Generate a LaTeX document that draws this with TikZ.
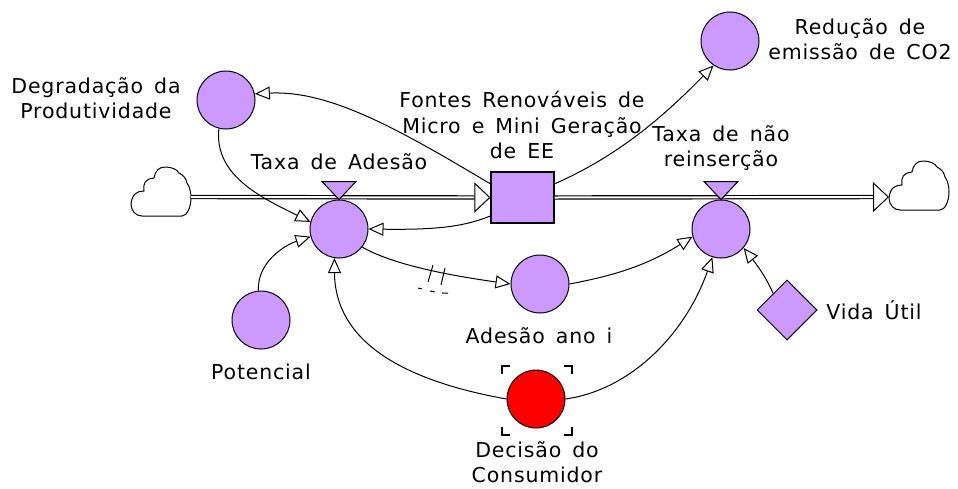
\documentclass[tikz,border=0pt]{standalone}
\usepackage{fontspec}
\setmainfont[WordSpace=1.5, LetterSpace=4]{DejaVu Sans}
\usepackage{xcolor}
\usetikzlibrary{arrows.meta, shapes.geometric}
\definecolor{lilac}{HTML}{CC99FF}
\tikzset{
  pics/cloudshape/.style={code={
    \draw[line width=1pt, fill=white] (0,37) .. controls (1,27) and (6,24) .. (13,24)
      .. controls (12,16) and (14,12) .. (23,11) .. controls (24,4) and (28,0) .. (34,0)
      .. controls (40,0) and (46,2) .. (48,6) .. controls (52,8) and (55,11) .. (56,16)
      .. controls (59,20) and (60,26) .. (60,31) .. controls (60,40) and (56,49) .. (51,49)
      -- (11,49) .. controls (5,49) and (0,44) .. (0,37) -- cycle;
  }}
}
\begin{document}
\begin{tikzpicture}[x=1pt, y=-1pt,
  aux/.style = {draw, circle, fill=lilac, minimum size=58pt, inner sep=0pt, line width=1pt},
  stockbox/.style = {draw, rectangle, fill=lilac, minimum width=63pt, minimum height=51pt, inner sep=0pt, line width=1.1pt},
  constbox/.style = {draw, diamond, fill=lilac, minimum size=60pt, inner sep=0pt, line width=1pt},
  valve/.style = {draw, fill=lilac, line width=1pt},
  link/.style = {-{Triangle[open, length=15pt, width=13pt]}, line width=1pt},
  flow/.style = {-{Triangle[open, length=16pt, width=30pt, line width=1pt]}, double, double distance=2pt, line width=1.2pt},
  lbl/.style = {align=center, inner sep=0pt, font=\fontsize{20.5}{25.5}\selectfont}]
\useasboundingbox (0,0) rectangle (958,488);

% stock and variables
\node[stockbox] (stock) at (522.5,197.5) {};
\node[aux] (adesao) at (339,229) {};
\node[aux] (naoreins) at (721,229) {};
\node[aux] (degrad) at (226,100) {};
\node[aux] (reducao) at (730,41) {};
\node[aux] (potencial) at (261,320) {};
\node[aux] (anoi) at (540,284) {};
\node[aux, fill=red] (decisao) at (536,399) {};
\node[constbox] (vida) at (787,310) {};

% clouds
\pic at (131,167) {cloudshape};
\pic at (889,161) {cloudshape};
\coordinate (source) at (191,197);
\coordinate (sink) at (889,197);

% flows
\draw[flow] (source) -- (stock.west);
\draw[flow] (stock.east) -- (sink);
\draw[valve] (adesao.north) -- ++(-17,-18) -- ++(34,0) -- cycle;
\draw[valve] (naoreins.north) -- ++(-17,-18) -- ++(34,0) -- cycle;

% links
\draw[link] (stock.157) .. controls (400,130) and (330,90) .. (degrad.12);
\draw[link] (degrad.256) .. controls (214,175) and (260,197) .. (adesao.166);
\draw[link] (potencial.95) .. controls (257,262) and (285,245) .. (adesao.195);
\draw[link] (stock.210) .. controls (465,226) and (440,230) .. (adesao.east);
\draw[link] (stock.23) .. controls (620,155) and (665,115) .. (reducao.236);
\draw[link] (adesao.-38) .. controls (385,260) and (425,272) .. (anoi.west);
\draw[link] (anoi.east) .. controls (600,278) and (640,270) .. (naoreins.195);
\draw[link] (vida.130) .. controls (766,277) and (757,265) .. (naoreins.-40);
\draw[link] (decisao.west) .. controls (400,380) and (335,340) .. (adesao.-99);
\draw[link] (decisao.east) .. controls (630,390) and (685,335) .. (naoreins.-107);

% delay marks
\draw[line width=1pt] (433,265) -- (428,282);
\draw[line width=1pt] (445,268) -- (441,285);
\draw[line width=1pt] (418,288) -- (422,289) (430,291) -- (435,292) (442,293) -- (448,293);

% selection corners
\draw[line width=1.1pt] (502,374) -- (502,366) -- (510,366);
\draw[line width=1.1pt] (564,366) -- (572,366) -- (572,374);
\draw[line width=1.1pt] (502,427) -- (502,435) -- (510,435);
\draw[line width=1.1pt] (564,435) -- (572,435) -- (572,427);

% labels
\node[lbl] (lbldegrad) at (96,98) {Degradação da\\Produtividade};
\node[lbl] (lbladesao) at (339,162) {Taxa de Adesão};
\node[lbl] (lblstock) at (522,125) {Fontes Renováveis de\\Micro e Mini Geração\\de EE};
\node[lbl] (lblreducao) at (860,39) {Redução de\\emissão de CO2};
\node[lbl] (lblnao) at (721,148) {Taxa de não\\reinserção};
\node[lbl] (lblvida) at (874,310) {Vida Útil};
\node[lbl] (lblanoi) at (539,336) {Adesão ano i};
\node[lbl] (lblpot) at (261,372) {Potencial};
\node[lbl] (lbldec) at (537,462) {Decisão do\\Consumidor};
\end{tikzpicture}
\end{document}
